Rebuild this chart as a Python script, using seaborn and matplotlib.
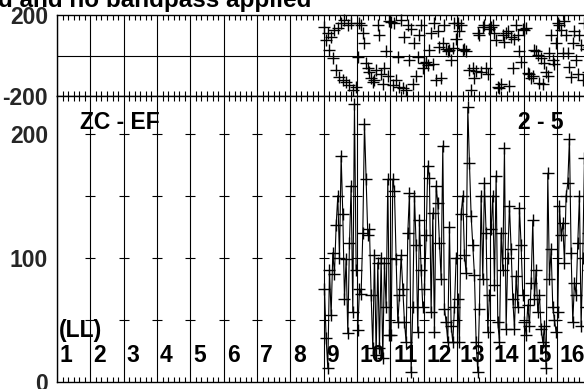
import numpy as np
import pandas as pd
import matplotlib
matplotlib.use("Agg")
import matplotlib.pyplot as plt
import seaborn as sns

# ---------------- data ----------------
title_text = "d and no bandpass applied"
baseline_label = "ZC - EF"
source_label = "2 - 5"
stokes_label = "(LL)"
n_if = 16
if_labels = [str(i) for i in range(1, n_if + 1)]
amp_ticks = [0, 100, 200]
phase_ticks = [-200, 200]

# amplitudes per IF (only IFs 9..16 carry data)
amp_if9 = [75, 35, 11, 90, 54, 104, 87, 126, 150, 100, 182, 135, 67, 99, 39, 112, 158, 56, 224, 90]
amp_if10 = [42, 75, 71, 120, 208, 163, 118, 123, 70, 27, 102, 22, 96, 27, 100, 19, 96, 60, 163, 38]
amp_if11 = [38, 163, 154, 99, 48, 70, 102, 75, 48, 32, 120, 152, 8, 60, 150, 110, 40, 130, 90, 60]
amp_if12 = [75, 118, 174, 164, 56, 136, 40, 158, 144, 112, 83, 190, 59, 48, 32, 125, 45, 32, 60, 100]
amp_if13 = [67, 32, 135, 150, 102, 88, 221, 176, 134, 110, 86, 32, 8, 59, 150, 83, 160, 120, 40, 70]
amp_if14 = [123, 150, 78, 166, 48, 32, 120, 90, 188, 43, 100, 142, 107, 67, 43, 85, 60, 140, 110, 70]
amp_if15 = [48, 38, 62, 45, 80, 130, 67, 90, 56, 70, 43, 32, 45, 11, 168, 83, 107, 60, 50, 40]
amp_if16 = [56, 142, 118, 128, 96, 150, 160, 196, 104, 48, 80, 70, 112, 150, 45, 100, 180, 60, 120, 90]

# phases per IF
ph_if9 = [140, 76, 110, 27, 91, -12, 125, -71, 135, -105, 159, -120, 174, -130, 150, -145, 160, -169, -250, -154]
ph_if10 = [-7, 159, 150, 110, 61, -37, -61, -81, -110, -130, -120, -71, 150, 100, -90, -140, -60, 20, -100, 170]
ph_if11 = [164, -145, 160, -120, -7, -154, 174, -159, 91, -169, 149, -20, 130, -140, 60, -100, -7, 100, 150, -60]
ph_if12 = [-37, -30, -47, 27, 110, -40, 159, -120, 120, 42, -110, 60, 150, 30, 20, 25, -20, 35, 160, 80]
ph_if13 = [159, 120, 150, 27, 30, 20, -250, -71, -169, -60, -110, -75, 110, 100, -80, 140, 150, -60, -90, 130]
ph_if14 = [140, 149, 110, 76, -154, -159, -140, 100, 66, 110, 120, -150, 90, -60, 80, 150, 100, 20, -30, 130]
ph_if15 = [125, 135, -86, -90, -110, -100, 27, 20, 2, -135, -12, -140, -37, -80, -100, 10, 100, -20, -40, 60]
ph_if16 = [159, 150, 125, 12, 170, 100, 12, -56, -105, 60, 120, -20, -90, 100, 50, -120, 160, 30, -80, 40]

data_ifs = [9, 10, 11, 12, 13, 14, 15, 16]
amps = [amp_if9, amp_if10, amp_if11, amp_if12, amp_if13, amp_if14, amp_if15, amp_if16]
phases = [ph_if9, ph_if10, ph_if11, ph_if12, ph_if13, ph_if14, ph_if15, ph_if16]

# ---------------- build table ----------------
rows = []
for ifn, a, p in zip(data_ifs, amps, phases):
    n = len(a)
    for ch in range(n):
        rows.append({"IF": ifn, "chan": (ifn - 1) + (ch + 0.5) / n, "amp": a[ch], "phase": p[ch]})
df = pd.DataFrame(rows)

# ---------------- figure ----------------
sns.set_style("white")
plt.rcParams["font.family"] = ["Liberation Sans", "DejaVu Sans"]
plt.rcParams["font.weight"] = "bold"

W, H = 584, 389
fig = plt.figure(figsize=(W / 100, H / 100), dpi=100)

left = 57 / W
width = (16 * 33.33) / W
ax_ph = fig.add_axes([left, (H - 96.3) / H, width, (96.3 - 14.7) / H])
ax_am = fig.add_axes([left, (H - 381.9) / H, width, (381.9 - 96.3) / H])

for ax in (ax_ph, ax_am):
    ax.set_xlim(0, n_if)
    for s in ax.spines.values():
        s.set_color("black")
        s.set_linewidth(1.0)
    ax.set_xticks(range(0, n_if + 1))
    ax.set_xticks(np.arange(0, n_if + 1e-9, 1 / 6), minor=True)
    ax.tick_params(axis="x", which="major", length=0, labelbottom=False)
    ax.tick_params(axis="x", which="minor", direction="in", length=3.5, width=0.8,
                   top=True, bottom=True, color="black")
    ax.grid(axis="x", which="major", color="black", linewidth=0.8)

# phase panel
ax_ph.set_ylim(-200, 200)
ax_ph.set_yticks(phase_ticks)
ax_ph.set_yticklabels([str(v) for v in phase_ticks])
ax_ph.tick_params(axis="y", length=0, pad=6.5, labelsize=16.5)
ax_ph.axhline(0, color="black", linewidth=0.8)
sns.scatterplot(data=df, x="chan", y="phase", marker="+", color="black", s=70,
                linewidth=1.0, ax=ax_ph, clip_on=False, legend=False, zorder=3)
ax_ph.set_xlabel("")
ax_ph.set_ylabel("")

# amplitude panel
ax_am.set_ylim(0, 230)
ax_am.set_yticks(amp_ticks)
ax_am.set_yticklabels([str(v) for v in amp_ticks])
ax_am.set_yticks([50, 150], minor=True)
ax_am.tick_params(axis="y", which="both", direction="in", length=4, width=0.8,
                  pad=6.5, labelsize=16.5, color="black")
# small horizontal ticks at each IF boundary
bx, by = [], []
for b in range(1, n_if + 1):
    for v in [50, 100, 150, 200]:
        bx.append(b)
        by.append(v)
ax_am.plot(bx, by, linestyle="none", marker="_", markersize=7, markeredgewidth=0.8, color="black")

sns.lineplot(data=df, x="chan", y="amp", units="IF", estimator=None, color="black",
             linewidth=0.8, marker="+", markersize=8, markeredgewidth=1.0,
             markeredgecolor="black", ax=ax_am, legend=False)
ax_am.set_xlabel("")
ax_am.set_ylabel("")

# texts in the amplitude panel
txt = dict(fontsize=16.5, fontweight="bold", color="black")
ax_am.text(0.69, 209, baseline_label, ha="left", va="center", **txt)
ax_am.text(13.83, 209, source_label, ha="left", va="center", **txt)
ax_am.text(0.07, 41.5, stokes_label, ha="left", va="center", **txt)
for i, lab in enumerate(if_labels):
    ax_am.text(i + 0.09, 21.5, lab, ha="left", va="center", **txt)

fig.text(-2 / W, (H - 7) / H, title_text, ha="left", va="baseline",
         fontsize=17.5, fontweight="bold", color="black")

fig.savefig("out.png", dpi=100)
